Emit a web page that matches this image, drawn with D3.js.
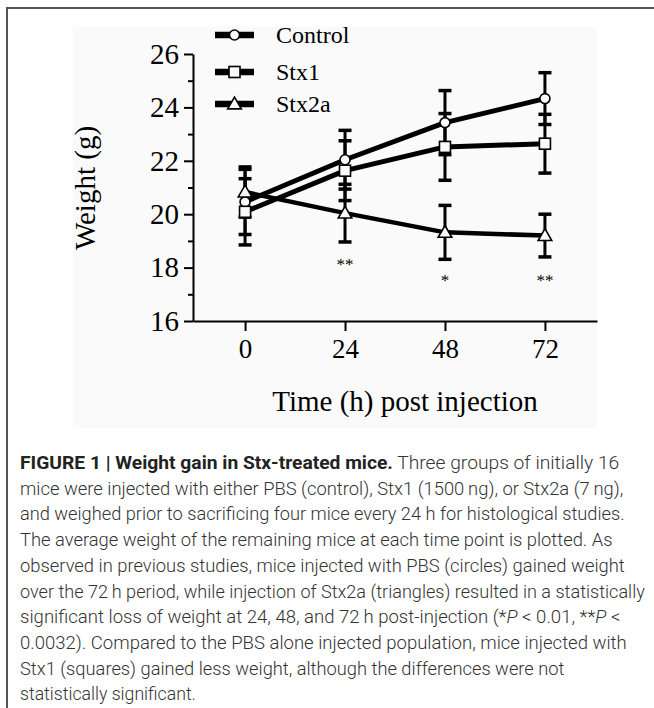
<!DOCTYPE html>
<html lang="en">
<head>
<meta charset="UTF-8">
<title>Weight gain in Stx-treated mice</title>
<style>
    body { margin: 0; padding: 0; background: #fff; }
    svg { display: block; }
    .axis path, .axis line { stroke: #000; stroke-width: 2px; }
    .axis text { font-family: "Liberation Serif", "Times New Roman", serif; fill: #000; }
</style>
</head>
<body>
<svg id="chart" width="654" height="708"></svg>

<script src="https://cdnjs.cloudflare.com/ajax/libs/d3/7.8.5/d3.min.js"></script>
<script>
// time points (h)
const hours = [0, 24, 48, 72];

// mean weight (g) and error (g) per group
const controlMean = [20.46, 22.04, 23.43, 24.33];
const controlErr  = [1.22, 1.10, 1.20, 0.97];
const stx1Mean    = [20.09, 21.63, 22.52, 22.64];
const stx1Err     = [1.24, 1.12, 1.25, 1.10];
const stx2aMean   = [20.83, 20.04, 19.32, 19.20];
const stx2aErr    = [0.94, 1.08, 1.01, 0.80];

// significance marks under the Stx2a points
const sigHours = [24, 48, 72];
const sigMarks = ["**", "*", "**"];
const sigLevel = [17.9, 17.3, 17.3];

const yMajor = [16, 18, 20, 22, 24, 26];
const yMinor = [17, 19, 21, 23, 25];

const captionLines = [
    [["b", "FIGURE 1 | Weight gain in Stx-treated mice."], ["n", " Three groups of initially 16"]],
    [["n", "mice were injected with either PBS (control), Stx1 (1500\u2009ng), or Stx2a (7\u2009ng),"]],
    [["n", "and weighed prior to sacrificing four mice every 24 h for histological studies."]],
    [["n", "The average weight of the remaining mice at each time point is plotted. As"]],
    [["n", "observed in previous studies, mice injected with PBS (circles) gained weight"]],
    [["n", "over the 72\u2009h period, while injection of Stx2a (triangles) resulted in a statistically"]],
    [["n", "significant loss of weight at 24, 48, and 72\u2009h post-injection (*"], ["i", "P"], ["n", " < 0.01, **"], ["i", "P"], ["n", " <"]],
    [["n", "0.0032). Compared to the PBS alone injected population, mice injected with"]],
    [["n", "Stx1 (squares) gained less weight, although the differences were not"]],
    [["n", "statistically significant."]]
];
// rendered width of each caption line in the reference (px)
const captionWidths = [600, 604, 605, 593, 605, 625, 601, 607, 545, 176];

const series = [
    {name: "Control", mean: controlMean, err: controlErr, marker: "circle", width: 5},
    {name: "Stx1", mean: stx1Mean, err: stx1Err, marker: "square", width: 5},
    {name: "Stx2a", mean: stx2aMean, err: stx2aErr, marker: "triangle", width: 4.5}
];

const svg = d3.select("#chart");

// frame around the figure
svg.append("path")
    .attr("d", "M7,708 V8 H654")
    .attr("fill", "none")
    .attr("stroke", "#555")
    .attr("stroke-width", 2);

// light background of the figure image
svg.append("rect")
    .attr("x", 73).attr("y", 27)
    .attr("width", 524).attr("height", 401)
    .attr("fill", "#fafafa");

const x = d3.scaleLinear().domain([-12.5, 84.5]).range([193, 597]);
const y = d3.scaleLinear().domain([16, 26]).range([321, 54]);

// y axis
svg.append("g")
    .attr("class", "axis")
    .attr("transform", "translate(" + x(-12.5) + ",0)")
    .call(d3.axisLeft(y).tickValues(yMajor).tickSize(9).tickSizeOuter(0).tickPadding(5))
    .selectAll("text").attr("font-size", 29);

svg.append("g")
    .attr("class", "axis")
    .attr("transform", "translate(" + x(-12.5) + ",0)")
    .call(d3.axisLeft(y).tickValues(yMinor).tickSize(5).tickSizeOuter(0).tickFormat(""))
    .select(".domain").remove();

// x axis
svg.append("g")
    .attr("class", "axis")
    .attr("transform", "translate(0," + y(16) + ")")
    .call(d3.axisBottom(x).tickValues(hours).tickSize(10).tickSizeOuter(0).tickPadding(8))
    .selectAll("text").attr("font-size", 27);

// axis titles
svg.append("text")
    .attr("x", 405).attr("y", 411)
    .attr("text-anchor", "middle")
    .attr("font-family", "Liberation Serif, Times New Roman, serif")
    .attr("font-size", 29)
    .text("Time (h) post injection");

svg.append("text")
    .attr("transform", "translate(95,188) rotate(-90)")
    .attr("text-anchor", "middle")
    .attr("font-family", "Liberation Serif, Times New Roman, serif")
    .attr("font-size", 29)
    .text("Weight (g)");

function drawMarker(g, type, cx, cy) {
    if (type === "circle") {
        g.append("circle").attr("cx", cx).attr("cy", cy).attr("r", 5)
            .attr("fill", "#fafafa").attr("stroke", "#000").attr("stroke-width", 1.6);
    } else if (type === "square") {
        g.append("rect").attr("x", cx - 5.5).attr("y", cy - 5.5).attr("width", 11).attr("height", 11)
            .attr("fill", "#fafafa").attr("stroke", "#000").attr("stroke-width", 1.6);
    } else {
        g.append("path")
            .attr("d", d3.symbol(d3.symbolTriangle, 80)())
            .attr("transform", "translate(" + cx + "," + (cy + 1) + ")")
            .attr("fill", "#fafafa").attr("stroke", "#000").attr("stroke-width", 1.6);
    }
}

// error bars
series.forEach(s => {
    const g = svg.append("g");
    hours.forEach((h, i) => {
        const top = y(s.mean[i] + s.err[i]);
        const bot = y(s.mean[i] - s.err[i]);
        g.append("line").attr("x1", x(h)).attr("x2", x(h)).attr("y1", top).attr("y2", bot)
            .attr("stroke", "#000").attr("stroke-width", 3);
        [top, bot].forEach(v => {
            g.append("line").attr("x1", x(h) - 6.5).attr("x2", x(h) + 6.5).attr("y1", v).attr("y2", v)
                .attr("stroke", "#000").attr("stroke-width", 3.5);
        });
    });
});

// lines
const line = d3.line().x((d, i) => x(hours[i])).y(d => y(d));
series.forEach(s => {
    svg.append("path")
        .attr("d", line(s.mean))
        .attr("fill", "none")
        .attr("stroke", "#000")
        .attr("stroke-width", s.width)
        .attr("stroke-linejoin", "round");
});

// markers
series.forEach(s => {
    const g = svg.append("g");
    hours.forEach((h, i) => drawMarker(g, s.marker, x(h), y(s.mean[i])));
});

// significance marks
svg.selectAll(".sig")
    .data(sigHours)
    .enter().append("text")
    .attr("class", "sig")
    .attr("x", d => x(d))
    .attr("y", (d, i) => y(sigLevel[i]))
    .attr("text-anchor", "middle")
    .attr("font-family", "Liberation Serif, Times New Roman, serif")
    .attr("font-size", 17)
    .text((d, i) => sigMarks[i]);

// legend
const legendY = [35, 72, 104];
series.forEach((s, i) => {
    const g = svg.append("g");
    g.append("line").attr("x1", 215).attr("x2", 254).attr("y1", legendY[i]).attr("y2", legendY[i])
        .attr("stroke", "#000").attr("stroke-width", 6.5);
    drawMarker(g, s.marker, 234.5, legendY[i]);
    g.append("text")
        .attr("x", 276).attr("y", legendY[i] + 8)
        .attr("font-family", "Liberation Serif, Times New Roman, serif")
        .attr("font-size", 24)
        .text(s.name);
});

// caption, each line squeezed to the width it has in the reference
captionLines.forEach((parts, i) => {
    const g = svg.append("g");
    const t = g.append("text")
        .attr("x", 0).attr("y", 0)
        .attr("font-family", "Liberation Sans Narrow, Arial Narrow, Roboto, sans-serif")
        .attr("font-size", 17.5)
        .attr("font-weight", 300)
        .attr("fill", "#333");
    parts.forEach(p => {
        const sp = t.append("tspan").text(p[1]);
        if (p[0] === "b") sp.attr("font-weight", "bold").attr("fill", "#222");
        if (p[0] === "i") sp.attr("font-style", "italic");
    });
    const k = captionWidths[i] / t.node().getComputedTextLength();
    g.attr("transform", "translate(20," + (469 + i * 25.7) + ") scale(" + k + ",1)");
});
</script>
</body>
</html>
